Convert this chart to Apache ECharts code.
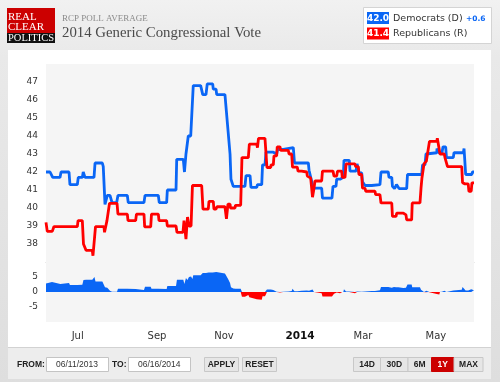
<!DOCTYPE html>
<html>
<head>
<meta charset="utf-8">
<style>
html,body{margin:0;padding:0;background:#e2e2e2;}
#c{width:500px;height:382px;}
</style>
<script src="https://cdn.jsdelivr.net/npm/echarts@6/dist/echarts.min.js"></script>
</head>
<body>
<div id="c"></div>
<script>
// x = days since 06/11/2013
const demPoints = [[0,42.0],[3.5,42.0],[5.8,41.7],[12.1,41.7],[13.0,42.0],[19.9,42.0],[20.7,41.3],[27.1,41.3],[27.9,41.7],[31.4,41.7],[32.2,42.0],[33.3,42.0],[33.7,41.7],[41.5,41.7],[42.4,42.5],[48.7,42.5],[49.5,42.3],[50.1,42.3],[51.0,40.2],[53.0,40.7],[55.3,40.7],[57.1,40.3],[61.1,40.3],[62.2,40.7],[70.3,40.7],[71.1,40.3],[84.7,40.3],[85.6,40.7],[97.1,40.7],[97.9,40.3],[104.3,40.3],[104.9,41.0],[112.4,41.0],[113.0,42.7],[118.7,42.7],[119.7,42.0],[121.0,43.0],[123.0,44.0],[125.1,44.0],[127.3,46.8],[133.7,46.8],[135.5,46.3],[138.3,46.3],[139.4,46.9],[144.1,46.9],[144.6,46.6],[147.0,46.6],[147.6,46.3],[154.7,46.3],[159.1,43.0],[159.9,41.6],[161.4,41.6],[161.9,41.2],[172.0,41.2],[172.9,41.8],[176.4,41.8],[177.2,41.15],[182.2,41.15],[182.8,41.3],[186.5,41.3],[187.2,42.4],[189.3,42.4],[190.2,43.1],[196.5,43.1],[197.1,43.0],[199.4,43.0],[200.1,43.25],[205.1,43.25],[205.7,43.35],[213.8,43.35],[214.8,42.5],[226.8,42.5],[227.4,42.1],[228.8,42.1],[231.1,41.1],[238.3,41.1],[239.0,40.55],[247.2,40.55],[248.1,41.2],[250.7,41.2],[251.3,41.6],[254.2,41.6],[254.6,41.7],[257.0,41.7],[257.6,42.65],[262.2,42.65],[262.8,42.05],[268.0,42.05],[268.9,42.45],[270.0,42.45],[270.6,41.95],[272.9,41.95],[273.6,41.45],[275.8,41.25],[281.6,41.25],[281.8,41.3],[288.7,41.3],[289.6,42.0],[295.9,42.0],[296.5,41.7],[298.9,41.7],[299.5,41.2],[300.8,41.2],[301.3,41.08],[302.6,41.08],[303.0,41.3],[304.6,41.3],[305.2,41.08],[311.8,41.08],[312.5,41.86],[324.8,41.86],[325.5,42.4],[327.6,42.4],[328.5,43.0],[330.0,43.07],[337.8,43.07],[338.0,43.3],[339.1,43.3],[339.7,43.07],[342.3,43.07],[343.2,43.4],[345.5,43.4],[346.2,42.8],[352.1,42.8],[352.7,43.07],[360.8,43.07],[361.4,43.3],[361.8,43.3],[362.8,41.86],[368.0,41.86],[368.7,42.0],[370,42.0]];

const repPoints = [[0,39.2],[1.1,38.7],[5.4,38.7],[6.9,38.97],[27.1,38.97],[27.7,39.3],[31.4,39.3],[32.4,38.0],[33.7,38.0],[34.6,37.65],[40.0,37.65],[40.6,37.35],[41.9,37.35],[42.8,38.97],[50.1,38.97],[50.6,38.65],[52.1,38.65],[52.7,39.3],[54.0,39.3],[54.9,40.26],[61.4,40.26],[62.2,39.66],[70.3,39.66],[70.9,39.3],[77.5,39.3],[78.2,39.66],[84.7,39.66],[85.3,38.95],[90.5,38.95],[91.2,39.66],[97.1,39.66],[97.7,39.3],[104.3,39.3],[104.9,39.0],[112.4,39.0],[113.2,38.65],[118.4,38.65],[119.3,39.3],[121.0,38.27],[122.3,39.5],[123.6,39.0],[125.4,39.0],[126.6,41.25],[134.6,41.25],[135.7,39.94],[140.3,39.94],[140.9,40.37],[144.6,40.37],[145.2,39.94],[147.0,39.94],[147.8,40.07],[154.7,40.07],[156.0,39.4],[157.3,40.22],[159.1,40.22],[159.5,40.0],[163.4,40.0],[163.8,40.15],[168.3,40.15],[169.4,42.8],[174.9,42.8],[175.8,43.55],[182.2,43.55],[182.8,43.35],[183.3,43.35],[183.7,43.87],[189.3,43.87],[191.0,42.25],[194.3,42.25],[194.5,42.4],[196.5,42.4],[197.1,42.9],[199.4,42.9],[199.9,43.4],[202.3,43.4],[202.9,43.2],[209.5,43.2],[210.1,43.0],[212.4,43.0],[213.1,42.27],[217.2,42.27],[217.9,42.05],[221.0,42.05],[221.6,42.0],[225.4,42.0],[225.9,41.77],[226.8,41.77],[227.4,41.67],[228.8,41.67],[230.4,40.6],[231.7,41.1],[232.5,41.5],[238.3,41.5],[239.0,42.05],[248.1,42.05],[249.0,41.77],[251.3,41.77],[252.0,42.05],[255.6,42.05],[256.1,41.7],[258.5,41.7],[259.4,42.45],[267.1,42.45],[267.7,42.3],[270.0,42.3],[270.6,41.86],[272.9,41.86],[273.6,41.1],[275.8,41.1],[276.4,40.93],[284.4,40.93],[285.0,40.74],[288.7,40.74],[289.6,40.28],[298.9,40.28],[299.5,39.53],[302.6,39.53],[303.2,39.72],[308.9,39.72],[309.5,39.62],[311.2,39.62],[311.8,39.34],[316.1,39.34],[316.6,40.28],[323.3,40.28],[324.2,41.1],[325.0,41.67],[326.2,41.67],[326.8,42.45],[328.2,42.45],[328.8,42.6],[330.5,42.6],[331.5,43.7],[337.8,43.7],[338.3,43.87],[340.0,43.87],[340.6,43.0],[344.3,43.0],[344.9,42.8],[346.4,42.8],[347.1,42.3],[359.4,42.3],[360.1,41.4],[361.7,41.4],[362.2,41.34],[365.0,41.34],[365.6,40.93],[367.6,40.93],[368.2,41.4],[370,41.4]];

const spreadPoints = [[0,2.8],[1.7,3.3],[5.2,3.3],[6.5,2.8],[12.4,2.7],[13.0,3.0],[19.9,3.0],[20.7,2.3],[27.1,2.3],[27.7,2.4],[31.4,2.4],[32.4,4.0],[33.7,3.9],[34.6,4.05],[40.0,4.05],[41.1,4.35],[41.9,5.0],[42.8,3.5],[48.7,3.5],[49.7,3.3],[51.0,1.55],[52.1,1.9],[53.0,1.4],[54.5,1.4],[55.3,0.45],[57.1,0.05],[61.4,0.05],[62.2,1.05],[70.3,1.05],[71.1,1.0],[77.5,1.0],[78.2,0.65],[84.7,0.65],[85.6,1.75],[90.5,1.75],[91.2,1.05],[97.1,1.05],[97.9,1.0],[104.3,1.0],[104.9,2.0],[112.4,2.0],[113.2,4.05],[118.7,4.05],[119.6,2.7],[121.0,4.7],[122.3,4.0],[123.6,5.0],[125.4,5.2],[126.6,4.3],[127.3,5.55],[133.7,5.55],[135.5,6.35],[138.3,6.35],[139.4,6.95],[140.6,6.5],[144.1,6.5],[144.9,6.2],[145.5,6.65],[147.2,6.65],[147.8,6.2],[154.7,6.2],[156.0,5.9],[157.3,4.4],[159.1,3.0],[159.9,1.6],[161.9,1.2],[163.8,1.05],[168.3,1.05],[169.4,-1.6],[172.0,-1.6],[172.9,-1.0],[174.9,-1.0],[175.8,-1.75],[176.6,-1.75],[177.2,-2.4],[182.2,-2.4],[182.8,-2.05],[183.7,-2.55],[186.5,-2.55],[187.2,-1.45],[189.3,-1.45],[190.2,-0.75],[191.0,0.85],[194.3,0.85],[194.8,0.7],[196.5,0.7],[197.1,0.1],[199.4,0.1],[200.1,-0.15],[202.3,-0.15],[202.9,0.05],[205.1,0.05],[205.7,0.15],[209.5,0.15],[210.1,0.35],[212.4,0.35],[213.1,1.1],[213.8,1.1],[214.8,0.25],[217.2,0.25],[217.9,0.45],[221.0,0.45],[221.6,0.5],[225.4,0.5],[225.9,0.75],[226.8,0.75],[227.4,0.45],[228.8,0.45],[230.4,0.8],[231.7,0],[232.5,-0.4],[238.3,-0.4],[239.0,-1.5],[247.2,-1.5],[248.1,-0.85],[249.0,-0.55],[250.7,-0.55],[251.3,-0.15],[252.0,-0.45],[254.2,-0.45],[254.6,-0.35],[255.6,-0.35],[256.1,0],[257.0,0],[257.6,0.95],[258.5,0.95],[259.4,0.2],[262.2,0.2],[262.8,-0.4],[267.1,-0.4],[268.0,-0.25],[268.9,0.15],[270.0,0.15],[270.6,0.1],[272.9,0.1],[273.6,0.35],[275.8,0.15],[276.4,0.3],[281.6,0.3],[281.8,0.35],[284.4,0.35],[285.0,0.55],[288.7,0.55],[289.6,1.7],[295.9,1.7],[296.5,1.4],[298.9,1.4],[299.5,1.65],[300.8,1.65],[301.3,1.55],[302.6,1.55],[303.2,1.6],[304.6,1.6],[305.2,1.35],[308.9,1.35],[309.5,1.45],[311.2,1.45],[311.8,1.75],[312.5,2.5],[316.1,2.5],[316.6,1.6],[323.3,1.6],[324.2,0.75],[325.5,0.75],[326.8,-0.05],[328.2,-0.05],[328.8,0.4],[330.5,0.45],[331.5,-0.65],[337.8,-0.65],[338.3,-0.55],[340.0,-0.8],[340.6,0.05],[342.3,0.05],[343.2,0.4],[344.3,0.4],[344.9,0.6],[346.2,0],[347.1,0.5],[352.1,0.5],[352.7,0.75],[359.4,0.75],[360.1,1.65],[361.4,1.9],[362.8,0.5],[365.0,0.5],[365.6,0.95],[367.6,0.95],[368.2,0.55],[368.7,0.7],[370,0.6]];

const tickDays = [27.4, 96.0, 153.9, 219.6, 274.0, 337.1];
const tickLabels = ['Jul', 'Sep', 'Nov', '2014', 'Mar', 'May'];
const seriesNames = ['Democrats (D)', 'Republicans (R)'];
const fromDate = '06/11/2013';
const toDate = '06/16/2014';
const rangeButtons = ['14D', '30D', '6M', '1Y', 'MAX'];

const BLUE = '#0a66f5';
const RED = '#ff0000';
const SANS = '"DejaVu Sans", Verdana, sans-serif';
const ARIAL = '"Liberation Sans", Arial, sans-serif';
const SERIF = '"Liberation Serif", Georgia, serif';

const lastDem = demPoints[demPoints.length - 1][1];
const lastRep = repPoints[repPoints.length - 1][1];
const diff = lastDem - lastRep;

const chart = echarts.init(document.getElementById('c'), null, {renderer: 'canvas'});

function txt(text, x, y, font, fill, align) {
  return {type: 'text', x: x, y: y, z: 5, silent: true,
    style: {text: text, font: font, fill: fill, align: align || 'left', verticalAlign: 'middle'}};
}
function rect(x, y, w, h, fill, stroke, z) {
  return {type: 'rect', z: z === undefined ? 1 : z, silent: true,
    shape: {x: x, y: y, width: w, height: h},
    style: {fill: fill, stroke: stroke || null, lineWidth: stroke ? 1 : 0}};
}

const graphics = [];
// white chart panel
graphics.push(rect(8, 50, 483, 297, '#ffffff', null, -10));
// bottom bar
graphics.push(rect(8, 347, 483, 32, '#ededed', null, -10));
graphics.push({type: 'line', z: -9, silent: true, shape: {x1: 8, y1: 347.5, x2: 491, y2: 347.5}, style: {stroke: '#d2d2d2', lineWidth: 1}});
// logo
graphics.push(rect(7, 8, 48, 26, '#cc0000', null, 1));
graphics.push(rect(7, 33, 48, 10, '#111111', null, 1));
graphics.push(txt('REAL', 8, 17.5, '11px ' + SERIF, '#ffffff'));
graphics.push(txt('CLEAR', 8, 27.5, '11px ' + SERIF, '#ffffff'));
graphics.push(txt('POLITICS', 8, 38.5, '10.5px ' + SERIF, '#ffffff'));
// titles
graphics.push(txt('RCP POLL AVERAGE', 62, 18.5, '9px ' + SERIF, '#8a8a8a'));
graphics.push(txt('2014 Generic Congressional Vote', 62, 33.5, '14.8px ' + SERIF, '#4a4a4a'));
// legend box
graphics.push(rect(363.5, 7.5, 128, 36, '#ffffff', '#d4d4d4', 1));
graphics.push(rect(367, 12, 22, 12, BLUE, null, 2));
graphics.push(rect(367, 27.5, 22, 12, RED, null, 2));
graphics.push(txt(lastDem.toFixed(1), 378, 18.3, 'bold 9px ' + SANS, '#ffffff', 'center'));
graphics.push(txt(lastRep.toFixed(1), 378, 33.8, 'bold 9px ' + SANS, '#ffffff', 'center'));
graphics.push(txt(seriesNames[0], 393, 18.5, '9.5px ' + SANS, '#333333'));
graphics.push(txt(seriesNames[1], 393, 34, '9.5px ' + SANS, '#333333'));
graphics.push(txt((diff >= 0 ? '+' : '') + diff.toFixed(1), 466, 19, 'bold 7.5px ' + SANS, BLUE));
// footer
graphics.push(txt('FROM:', 17, 364.5, 'bold 8.5px ' + ARIAL, '#222222'));
graphics.push(rect(46.5, 357.5, 62, 14, '#ffffff', '#c4c4c4', 1));
graphics.push(txt(fromDate, 56, 364.5, '8.5px ' + ARIAL, '#333333'));
graphics.push(txt('TO:', 112, 364.5, 'bold 8.5px ' + ARIAL, '#222222'));
graphics.push(rect(128.5, 357.5, 62, 14, '#ffffff', '#c4c4c4', 1));
graphics.push(txt(toDate, 138, 364.5, '8.5px ' + ARIAL, '#333333'));
graphics.push(rect(204.5, 357.5, 34, 14, '#e6e6e6', '#c8c8c8', 1));
graphics.push(txt('APPLY', 221.5, 364.5, 'bold 8.5px ' + ARIAL, '#222222', 'center'));
graphics.push(rect(242.5, 357.5, 34, 14, '#e6e6e6', '#c8c8c8', 1));
graphics.push(txt('RESET', 259.5, 364.5, 'bold 8.5px ' + ARIAL, '#222222', 'center'));
const btnX = [353, 380, 407.5, 431, 453.5];
const btnW = [27, 27.5, 23.5, 22.5, 29];
rangeButtons.forEach(function (b, i) {
  const active = b === '1Y';
  graphics.push(rect(btnX[i] + 0.5, 357.5, btnW[i], 14, active ? '#cc0000' : '#e6e6e6', active ? '#cc0000' : '#c8c8c8', 1));
  graphics.push(txt(b, btnX[i] + 0.5 + btnW[i] / 2, 364.5, 'bold 8.5px ' + ARIAL, active ? '#ffffff' : '#222222', 'center'));
});

const option = {
  backgroundColor: {
    type: 'linear', x: 0, y: 0, x2: 0, y2: 1,
    colorStops: [{offset: 0, color: '#f1f1f1'}, {offset: 0.15, color: '#e9e9e9'}, {offset: 1, color: '#dedede'}]
  },
  animation: false,
  graphic: {elements: graphics},
  grid: [
    {left: 46, top: 64, width: 428, height: 198, show: true, backgroundColor: '#f5f5f5', borderWidth: 0, z: 1},
    {left: 46, top: 262, width: 428, height: 60, show: true, backgroundColor: '#f5f5f5', borderWidth: 0, z: 1}
  ],
  xAxis: [
    {type: 'value', gridIndex: 0, min: 0, max: 370,
      axisLine: {show: true, lineStyle: {color: '#c8c8c8', width: 1}},
      axisTick: {show: false}, axisLabel: {show: false}, splitLine: {show: false}},
    {type: 'value', gridIndex: 1, min: 0, max: 370,
      axisLine: {show: false}, axisTick: {show: false}, splitLine: {show: false},
      axisLabel: {
        customValues: tickDays, margin: 9, fontFamily: SANS, fontSize: 10, color: '#333',
        formatter: function (v) {
          const i = tickDays.indexOf(v);
          const l = i >= 0 ? tickLabels[i] : '';
          return /^\d{4}$/.test(l) ? '{b|' + l + '}' : l;
        },
        rich: {b: {fontWeight: 'bold', fontSize: 10.5, color: '#111', fontFamily: SANS}}
      }}
  ],
  yAxis: [
    {type: 'value', gridIndex: 0, min: 37, max: 48, interval: 1,
      axisLine: {show: false}, axisTick: {show: false},
      splitLine: {show: true, lineStyle: {color: '#ffffff', width: 1}},
      axisLabel: {margin: 8, fontFamily: SANS, fontSize: 9, color: '#333',
        formatter: function (v) { return (v === 37 || v === 48) ? '' : String(v); }}},
    {type: 'value', gridIndex: 1, min: -10, max: 10, interval: 5,
      axisLine: {show: false}, axisTick: {show: false},
      splitLine: {show: true, lineStyle: {color: '#ffffff', width: 1}},
      axisLabel: {margin: 8, fontFamily: SANS, fontSize: 9, color: '#333',
        formatter: function (v) { return Math.abs(v) === 10 ? '' : String(v); }}}
  ],
  series: [
    {name: seriesNames[0], type: 'line', xAxisIndex: 0, yAxisIndex: 0, data: demPoints,
      symbol: 'none', lineStyle: {color: BLUE, width: 2.8, join: 'bevel'}, itemStyle: {color: BLUE}, z: 3},
    {name: seriesNames[1], type: 'line', xAxisIndex: 0, yAxisIndex: 0, data: repPoints,
      symbol: 'none', lineStyle: {color: RED, width: 2.8, join: 'bevel'}, itemStyle: {color: RED}, z: 4},
    {name: 'Spread D', type: 'line', xAxisIndex: 1, yAxisIndex: 1,
      data: spreadPoints.map(function (p) { return [p[0], Math.max(p[1], 0)]; }),
      symbol: 'none', lineStyle: {width: 0}, areaStyle: {color: BLUE, opacity: 1, origin: 0}, z: 3},
    {name: 'Spread R', type: 'line', xAxisIndex: 1, yAxisIndex: 1,
      data: spreadPoints.map(function (p) { return [p[0], Math.min(p[1], 0)]; }),
      symbol: 'none', lineStyle: {width: 0}, areaStyle: {color: RED, opacity: 1, origin: 0}, z: 3}
  ]
};
chart.setOption(option);
</script>
</body>
</html>
